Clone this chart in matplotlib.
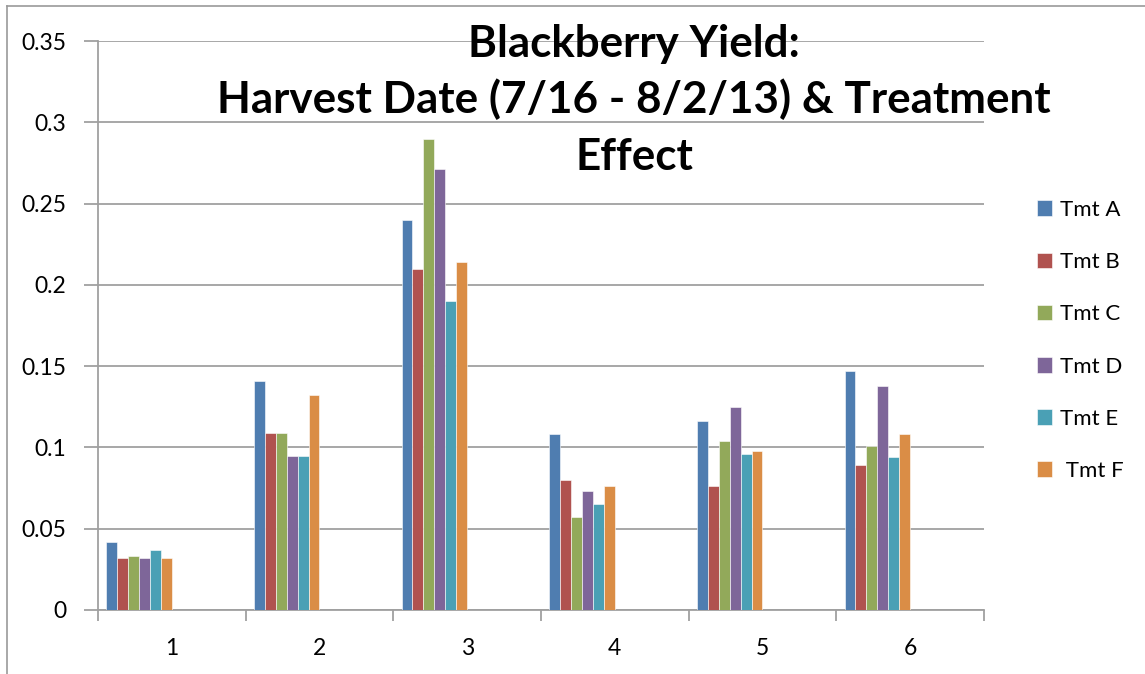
import matplotlib
matplotlib.use("Agg")
import matplotlib.pyplot as plt
from matplotlib.lines import Line2D
import numpy as np

categories = ["1", "2", "3", "4", "5", "6"]
series_names = ["Tmt A", "Tmt B", "Tmt C", "Tmt D", "Tmt E", " Tmt F"]
tmt_a = [0.042, 0.141, 0.240, 0.108, 0.116, 0.147]
tmt_b = [0.032, 0.109, 0.210, 0.080, 0.076, 0.089]
tmt_c = [0.033, 0.109, 0.290, 0.057, 0.104, 0.101]
tmt_d = [0.032, 0.095, 0.271, 0.073, 0.125, 0.138]
tmt_e = [0.037, 0.095, 0.190, 0.065, 0.096, 0.094]
tmt_f = [0.032, 0.132, 0.214, 0.076, 0.098, 0.108]
series_values = [tmt_a, tmt_b, tmt_c, tmt_d, tmt_e, tmt_f]
colors = ["#4F7DB0", "#B0524F", "#92A95A", "#7E6699", "#4AA0B5", "#DA8D46"]
y_ticks = [0, 0.05, 0.1, 0.15, 0.2, 0.25, 0.3, 0.35]
y_tick_labels = ["0", "0.05", "0.1", "0.15", "0.2", "0.25", "0.3", "0.35"]
title_lines = ["Blackberry Yield:", "Harvest Date (7/16 - 8/2/13) & Treatment", "Effect"]

W, H = 1145, 674
fig = plt.figure(figsize=(W / 100, H / 100), dpi=100)
fig.patch.set_facecolor("white")
ax = fig.add_axes([98 / W, 1 - 610 / H, (984 - 98) / W, (610 - 41) / H])

FONT = "Lato"
grid_c = "#A0A0A0"
TICK_FS = 16.5

n_cat = len(categories)
x = np.arange(n_cat)
w = 1 / 13.5
offset = 0.75 * w
handles = []
for j, (vals, c, name) in enumerate(zip(series_values, colors, series_names)):
    b = ax.bar(x - 0.5 + offset + j * w, vals, width=w, align="edge", color=c,
               edgecolor="#ffffff", linewidth=0.4, label=name, zorder=3)
    handles.append(b)

ax.set_xlim(-0.5, n_cat - 0.5)
ax.set_ylim(0, 0.35)
ax.set_yticks(y_ticks)
ax.set_yticklabels(y_tick_labels, fontfamily=FONT, fontsize=TICK_FS)
ax.yaxis.grid(True, color=grid_c, linewidth=1.3, zorder=0)
ax.set_axisbelow(True)

# x: tick marks at category boundaries, labels at centres
ax.set_xticks(np.arange(n_cat + 1) - 0.5)
ax.set_xticklabels([""] * (n_cat + 1))
ax.set_xticks(x, minor=True)
ax.set_xticklabels(categories, minor=True, fontfamily=FONT, fontsize=TICK_FS)
ax.tick_params(axis="x", which="major", length=8, width=1.3, color=grid_c, direction="out")
ax.tick_params(axis="x", which="minor", length=0, pad=20)
ax.tick_params(axis="y", length=10, width=1.3, color=grid_c, direction="out", pad=13)

for s in ["top", "right"]:
    ax.spines[s].set_visible(False)
for s in ["left", "bottom"]:
    ax.spines[s].set_color(grid_c)
    ax.spines[s].set_linewidth(1.3)

# title lines
baselines = [57, 113, 170]
fig.canvas.draw()
r = fig.canvas.get_renderer()
t2 = fig.text(634 / W, 1 - baselines[1] / H, title_lines[1], ha="center", va="baseline",
              fontfamily=FONT, fontweight="bold", fontsize=30)
ext = t2.get_window_extent(renderer=r)
fs = 30 * 832 / ext.width
t2.set_fontsize(fs)
for i in (0, 2):
    fig.text(634 / W, 1 - baselines[i] / H, title_lines[i], ha="center", va="baseline",
             fontfamily=FONT, fontweight="bold", fontsize=fs)

leg = fig.legend(handles=handles, labels=series_names, loc="upper left",
                 bbox_to_anchor=(1028 / W, 1 - 191 / H), frameon=False,
                 prop={"family": FONT, "size": 16}, handlelength=0.7, handleheight=0.7,
                 handletextpad=0.35, labelspacing=1.45, borderaxespad=0)

# chart border
fig.add_artist(Line2D([7 / W, 1], [1 - 6 / H, 1 - 6 / H], color="#999999", linewidth=1.2))
fig.add_artist(Line2D([7 / W, 7 / W], [0, 1 - 6 / H], color="#999999", linewidth=1.2))

fig.savefig("out.png", dpi=100, facecolor="white")
